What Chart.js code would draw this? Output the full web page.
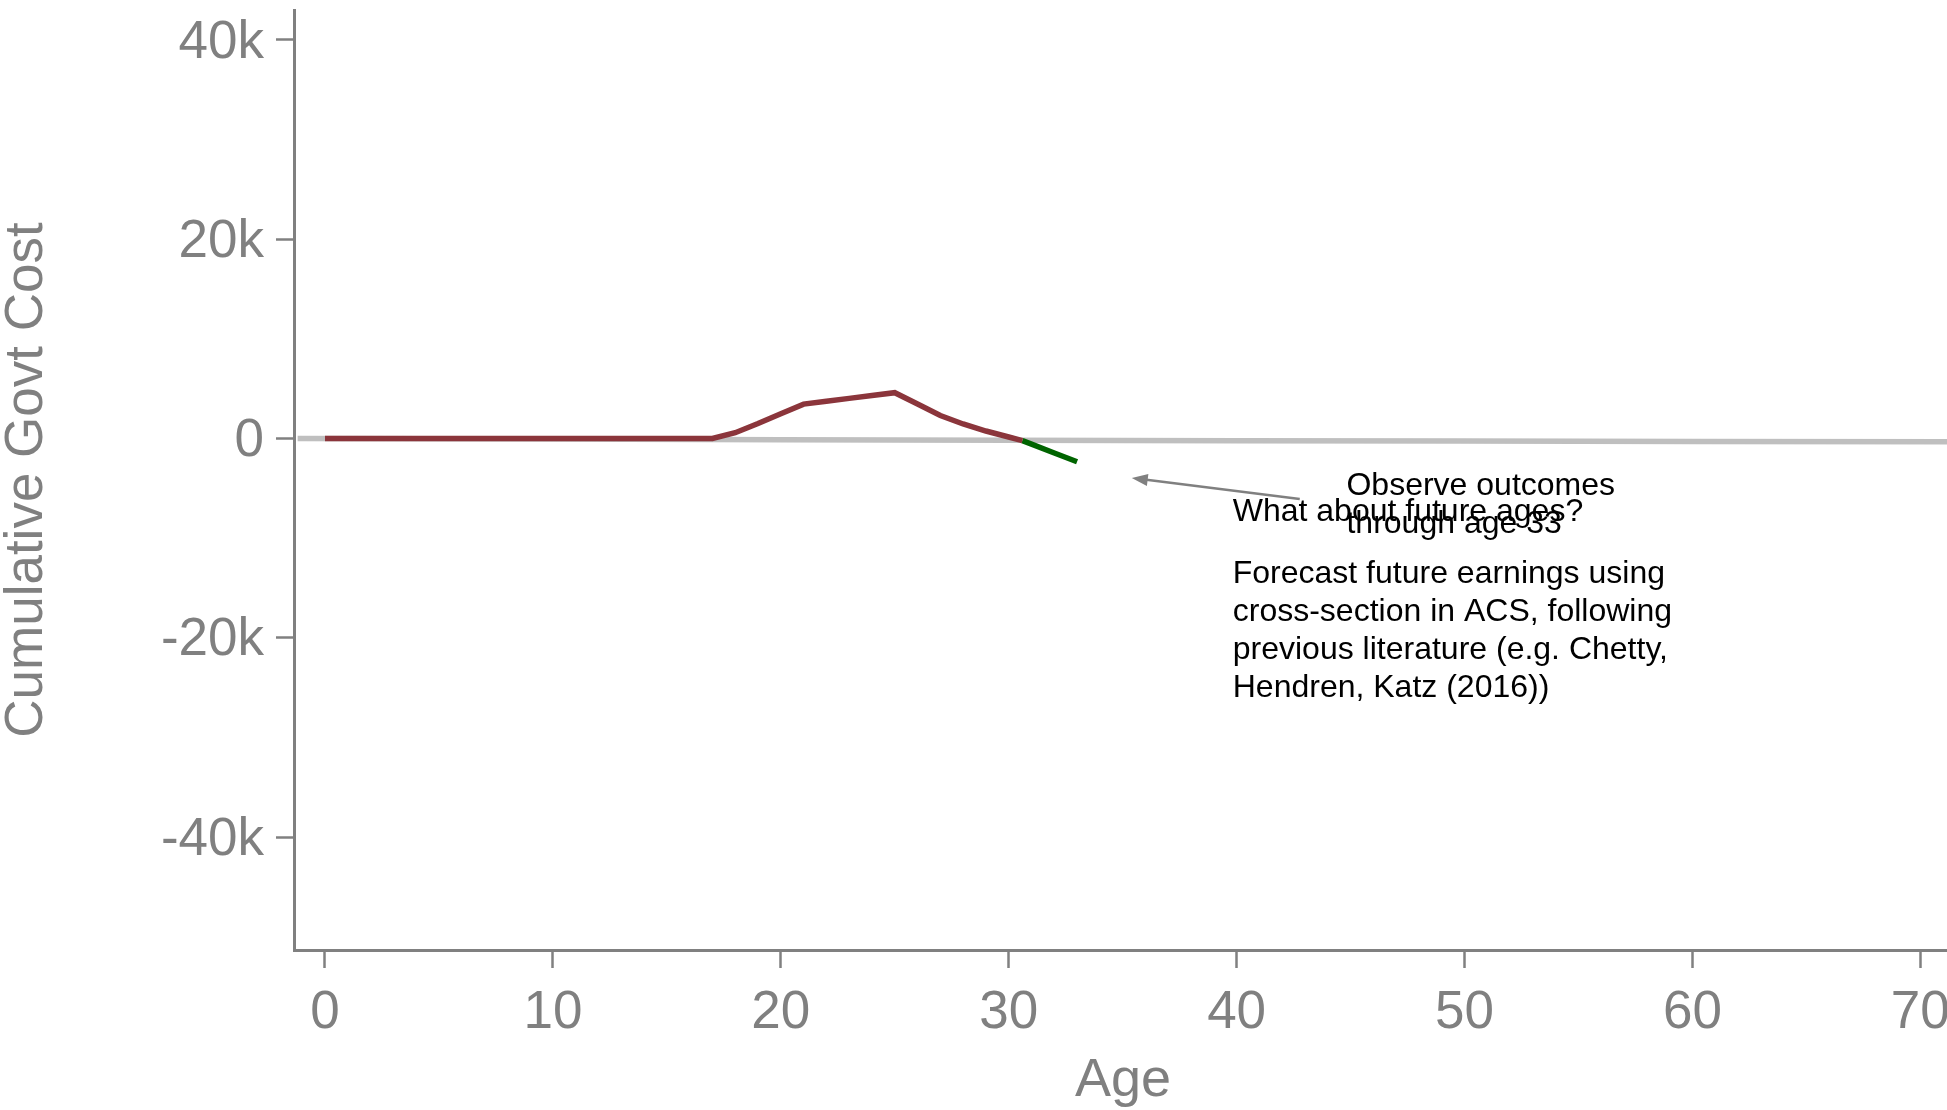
<!DOCTYPE html>
<html>
<head>
<meta charset="utf-8">
<script src="https://cdn.jsdelivr.net/npm/chart.js@4.4.1/dist/chart.umd.min.js"></script>
<style>
    html, body { margin: 0; padding: 0; background: #fff; overflow: hidden; }
    #wrap { width: 1952px; height: 1110px; }
</style>
</head>
<body>
<div id="wrap"><canvas id="myChart" width="1952" height="1110"></canvas></div>
<script>
// observed cumulative cost (red), projection start (green), baseline (gray)
const redAges = [0, 1, 2, 3, 4, 5, 6, 7, 8, 9, 10, 11, 12, 13, 14, 15, 16, 17, 18, 19, 20, 21, 22, 23, 24, 25, 26, 27, 28, 29, 30, 30.6];
const redCost = [0, 0, 0, 0, 0, 0, 0, 0, 0, 0, 0, 0, 0, 0, 0, 0, 0, 0, 580, 1500, 2480, 3450, 3740, 4030, 4310, 4600, 3460, 2310, 1460, 750, 150, -220];
const greenAges = [30.6, 31, 32, 33];
const greenCost = [-220, -560, -1450, -2330];
const grayAges = [-1.2, 10, 20, 30, 40, 50, 60, 71.5];
const grayCost = [0, -60, -120, -180, -220, -260, -290, -320];

const xTickValues = [0, 10, 20, 30, 40, 50, 60, 70];
const yTickValues = [-40000, -20000, 0, 20000, 40000];
const yTickLabels = ["-40k", "-20k", "0", "20k", "40k"];

// annotation text anchors (age, cost)
const noteTop = ["Observe outcomes", "through age 33"];
const noteTopAt = [44.82, -5670];
const noteMid = "What about future ages?";
const noteMidAt = [39.83, -8280];
const noteBody = ["Forecast future earnings using", "cross-section in ACS, following", "previous literature (e.g. Chetty,", "Hendren, Katz (2016))"];
const noteBodyAt = [39.83, -14460];
const arrowFrom = [42.77, -6070];
const arrowTo = [35.4, -3960];

const FONT = '"Liberation Sans", Arial, Helvetica, sans-serif';
const GREY = "#808080";

function toPts(xs, ys) {
    return xs.map(function (x, i) { return { x: x, y: ys[i] }; });
}

const notesPlugin = {
    id: "notes",
    afterDatasetsDraw: function (chart) {
        const ctx = chart.ctx;
        const xs = chart.scales.x;
        const ys = chart.scales.y;
        ctx.save();
        ctx.fillStyle = "#000";
        ctx.font = "32px " + FONT;
        ctx.textAlign = "left";
        ctx.textBaseline = "alphabetic";

        let px = xs.getPixelForValue(noteTopAt[0]);
        let py = ys.getPixelForValue(noteTopAt[1]);
        noteTop.forEach(function (t, i) { ctx.fillText(t, px, py + i * 38); });

        ctx.fillText(noteMid, xs.getPixelForValue(noteMidAt[0]), ys.getPixelForValue(noteMidAt[1]));

        px = xs.getPixelForValue(noteBodyAt[0]);
        py = ys.getPixelForValue(noteBodyAt[1]);
        noteBody.forEach(function (t, i) { ctx.fillText(t, px, py + i * 38.2); });

        // arrow
        const x1 = xs.getPixelForValue(arrowFrom[0]), y1 = ys.getPixelForValue(arrowFrom[1]);
        const x2 = xs.getPixelForValue(arrowTo[0]), y2 = ys.getPixelForValue(arrowTo[1]);
        const ang = Math.atan2(y2 - y1, x2 - x1);
        const headLen = 16, headW = 6;
        ctx.strokeStyle = GREY;
        ctx.fillStyle = GREY;
        ctx.lineWidth = 2.5;
        ctx.beginPath();
        ctx.moveTo(x1, y1);
        ctx.lineTo(x2 - Math.cos(ang) * headLen * 0.8, y2 - Math.sin(ang) * headLen * 0.8);
        ctx.stroke();
        ctx.beginPath();
        ctx.moveTo(x2, y2);
        ctx.lineTo(x2 - Math.cos(ang) * headLen - Math.sin(ang) * headW, y2 - Math.sin(ang) * headLen + Math.cos(ang) * headW);
        ctx.lineTo(x2 - Math.cos(ang) * headLen + Math.sin(ang) * headW, y2 - Math.sin(ang) * headLen - Math.cos(ang) * headW);
        ctx.closePath();
        ctx.fill();
        ctx.restore();
    }
};

const ctx = document.getElementById("myChart").getContext("2d");

const myChart = new Chart(ctx, {
    type: "line",
    data: {
        datasets: [
            {
                label: "Observed",
                data: toPts(redAges, redCost),
                borderColor: "#8B353B",
                borderWidth: 5.5,
                pointRadius: 0,
                tension: 0,
                order: 1,
            },
            {
                label: "Projected",
                data: toPts(greenAges, greenCost),
                borderColor: "#006400",
                borderWidth: 5.5,
                pointRadius: 0,
                tension: 0,
                order: 2,
            },
            {
                label: "Baseline",
                data: toPts(grayAges, grayCost),
                borderColor: "#bfbfbf",
                borderWidth: 5.5,
                pointRadius: 0,
                tension: 0,
                order: 3,
            },
        ],
    },
    options: {
        responsive: false,
        animation: false,
        layout: { padding: { top: 10, right: 0, bottom: 0, left: 0 } },
        plugins: {
            legend: { display: false },
            tooltip: { enabled: false },
        },
        scales: {
            x: {
                type: "linear",
                min: -1.36,
                max: 71.39,
                afterBuildTicks: function (scale) {
                    scale.ticks = xTickValues.map(function (v) { return { value: v }; });
                },
                afterFit: function (scale) {
                    scale.height = 160;
                    scale.paddingLeft = 0;
                    scale.paddingRight = 0;
                },
                border: { display: true, color: GREY, width: 3 },
                grid: { drawOnChartArea: false, drawTicks: true, tickLength: 18, tickColor: GREY, tickWidth: 2.5 },
                ticks: {
                    color: GREY,
                    font: { family: FONT, size: 53 },
                    padding: 14,
                    maxRotation: 0,
                    autoSkip: false,
                    callback: function (value) { return String(value); },
                },
                title: {
                    display: true,
                    text: "Age",
                    color: GREY,
                    font: { family: FONT, size: 54, lineHeight: 1 },
                    padding: { top: 0, bottom: 2 },
                },
            },
            y: {
                min: -51340,
                max: 43010,
                afterBuildTicks: function (scale) {
                    scale.ticks = yTickValues.map(function (v) { return { value: v }; });
                },
                afterFit: function (scale) {
                    scale.width = 294;
                    scale.paddingTop = 0;
                    scale.paddingBottom = 0;
                },
                border: { display: true, color: GREY, width: 3 },
                grid: { drawOnChartArea: false, drawTicks: true, tickLength: 18, tickColor: GREY, tickWidth: 2.5 },
                ticks: {
                    color: GREY,
                    font: { family: FONT, size: 53 },
                    padding: 12,
                    labelOffset: 3,
                    autoSkip: false,
                    callback: function (value) {
                        const i = yTickValues.indexOf(value);
                        return i >= 0 ? yTickLabels[i] : "";
                    },
                },
                title: {
                    display: true,
                    text: "Cumulative Govt Cost",
                    color: GREY,
                    font: { family: FONT, size: 53, lineHeight: 1 },
                    padding: { top: 1, bottom: 0 },
                },
            },
        },
    },
    plugins: [notesPlugin],
});
</script>
</body>
</html>
